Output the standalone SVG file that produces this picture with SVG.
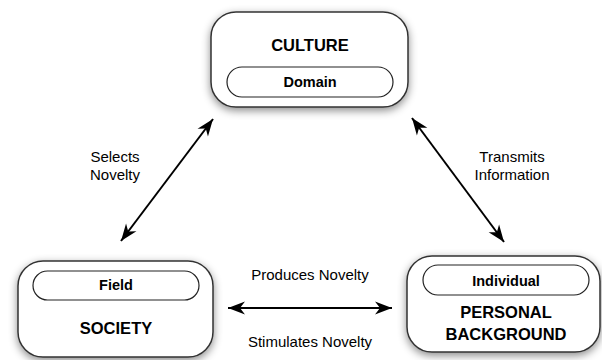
<svg xmlns="http://www.w3.org/2000/svg" width="602" height="360" viewBox="0 0 602 360">
<style>
.box{fill:#fff;stroke:#333;stroke-width:1.5;filter:url(#sh)}
.pill{fill:#fff;stroke:#222;stroke-width:1.2}
.t{font-family:"Liberation Sans",Arial,sans-serif;font-weight:bold;font-size:16.5px;fill:#000;text-anchor:middle}
.p{font-family:"Liberation Sans",Arial,sans-serif;font-weight:bold;font-size:14.5px;fill:#000;text-anchor:middle}
.l{font-family:"Liberation Sans",Arial,sans-serif;font-size:15px;fill:#000;text-anchor:middle}
.c{stroke:#000;stroke-width:2;fill:none;marker-start:url(#ah);marker-end:url(#ah)}
</style>
<defs>
<filter id="sh" x="-20%" y="-20%" width="140%" height="150%">
<feDropShadow dx="0" dy="3" stdDeviation="4" flood-color="#000" flood-opacity="0.45"/>
</filter>
<marker id="ah" markerUnits="userSpaceOnUse" viewBox="-18 -7 19 14" refX="0" refY="0" markerWidth="19" markerHeight="14" orient="auto-start-reverse">
<path d="M0,0 L-17,-6.5 L-12,0 L-17,6.5 Z" fill="#000"/>
</marker>
</defs>
<rect width="602" height="360" fill="#fff"/>
<g id="connectors">
<line class="c" x1="121" y1="241" x2="213" y2="119"/>
<line class="c" x1="412" y1="118" x2="504" y2="242"/>
<line class="c" x1="228" y1="308" x2="392" y2="308"/>
<text class="l" x="115" y="162">Selects</text>
<text class="l" x="115" y="180">Novelty</text>
<text class="l" x="512" y="162">Transmits</text>
<text class="l" x="512" y="180">Information</text>
<text class="l" x="310" y="280">Produces Novelty</text>
<text class="l" x="310" y="347">Stimulates Novelty</text>
</g>
<g id="culture">
<rect class="box" x="211" y="12" width="197" height="95" rx="25"/>
<text class="t" x="310" y="51">CULTURE</text>
<rect class="pill" x="227" y="67" width="166" height="30" rx="15"/>
<text class="p" x="310" y="87">Domain</text>
</g>
<g id="society">
<rect class="box" x="18" y="261" width="195" height="96" rx="25"/>
<rect class="pill" x="33" y="271" width="166" height="29" rx="14.5"/>
<text class="p" x="116" y="290">Field</text>
<text class="t" x="116" y="334">SOCIETY</text>
</g>
<g id="personal">
<rect class="box" x="407" y="256" width="193" height="96" rx="25"/>
<rect class="pill" x="423" y="265" width="166" height="30" rx="15"/>
<text class="p" x="506" y="286">Individual</text>
<text class="t" x="506" y="318">PERSONAL</text>
<text class="t" x="506" y="340">BACKGROUND</text>
</g>
</svg>
